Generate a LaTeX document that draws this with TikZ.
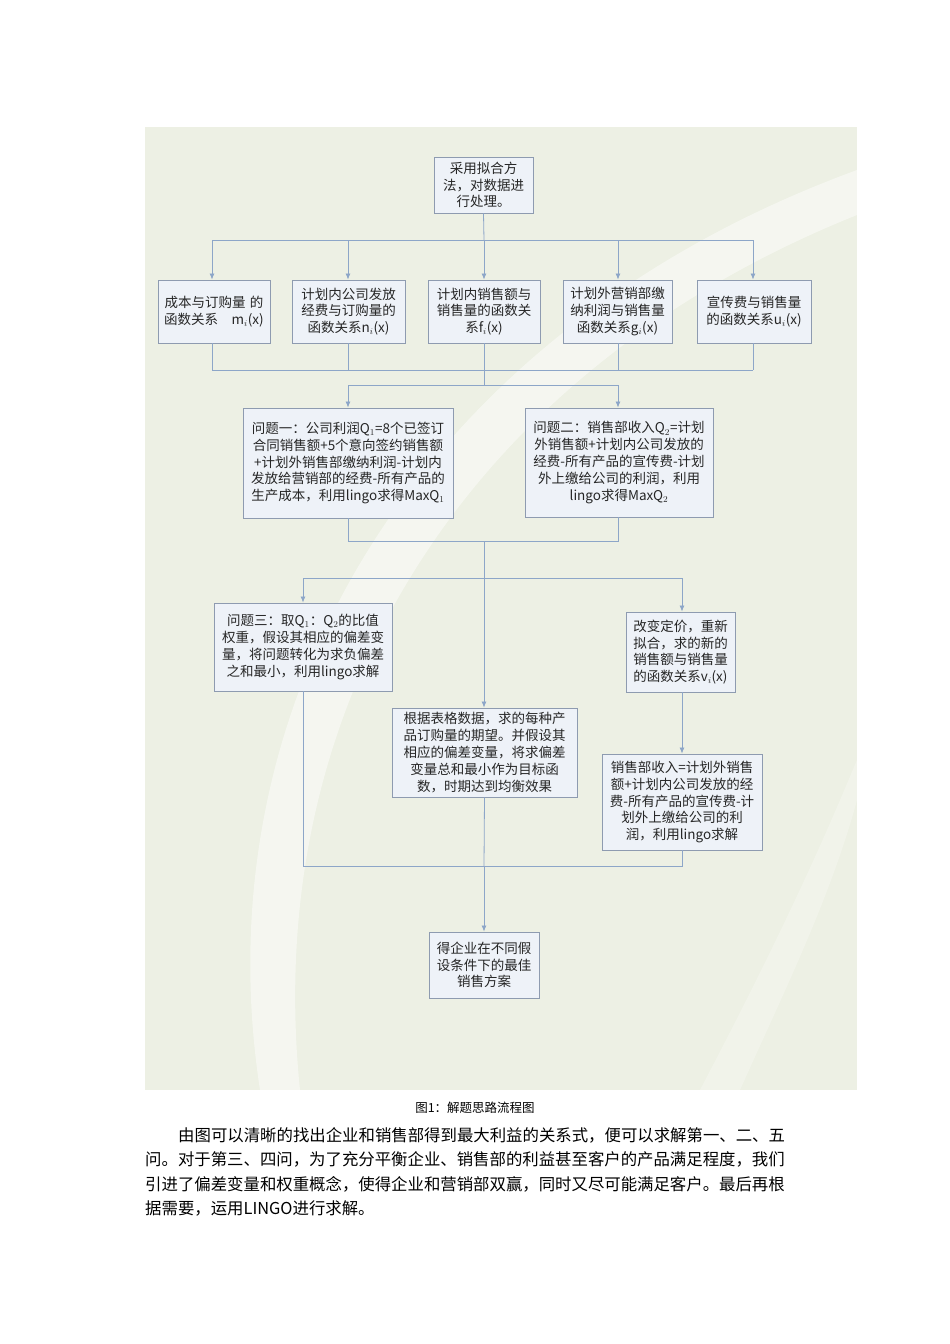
\documentclass[tikz,border=0pt]{standalone}
\usepackage{fontspec}
\setmainfont{Noto Sans CJK SC}
\usetikzlibrary{arrows.meta}
\definecolor{bg}{HTML}{EDF0E4}
\definecolor{boxf}{HTML}{EEF2F8}
\definecolor{boxd}{HTML}{8E9BB0}
\definecolor{ln}{HTML}{8DA6C8}
\tikzset{
 bx/.style={draw=boxd,fill=boxf,line width=0.9pt,inner sep=1pt,align=center,font=\fontsize{13.5}{16.8}\selectfont,text=black!85},
 cn/.style={draw=ln,line width=0.8pt},
 ar/.style={cn,-{Latex[length=6pt,width=5pt]},draw=ln,fill=ln!80!blue},
 pl/.style={anchor=west,font=\fontsize{16.4}{19}\selectfont,inner sep=0pt}
}
\newcommand{\bxat}[6]{\node[bx,minimum width=#3-#1,minimum height=#4-#2,text width=#3-#1-4] (#5) at ({(#1+#3)/2},{(#2+#4)/2}) {#6};}
\begin{document}
\begin{tikzpicture}[x=1pt,y=-1pt]
\useasboundingbox (0,0) rectangle (950,1344);
\fill[white] (0,0) rectangle (950,1344);
\fill[bg] (145,127) rectangle (857,1090);
\begin{scope}
\clip (145,127) rectangle (857,1090);
\fill[white,opacity=0.45] (260,1090) .. controls (200,700) and (420,330) .. (857,170) -- (857,215) .. controls (470,370) and (260,700) .. (300,1090) -- cycle;
\fill[white,opacity=0.25] (700,1090) .. controls (800,900) and (840,800) .. (857,760) -- (857,800) .. controls (830,900) and (780,1000) .. (740,1090) -- cycle;
\end{scope}
\bxat{434}{157}{533}{213}{t}{采用拟合方\\法，对数据进\\行处理。}
\bxat{158}{280}{270}{343}{a1}{成本与订购量 的\\函数关系\quad m$_i$(x)}
\bxat{292}{280}{405}{343}{a2}{计划内公司发放\\经费与订购量的\\函数关系n$_i$(x)}
\bxat{428}{280}{540}{343}{a3}{计划内销售额与\\销售量的函数关\\系f$_i$(x)}
\bxat{563}{280}{672}{343}{a4}{计划外营销部缴\\纳利润与销售量\\函数关系g$_i$(x)}
\bxat{697}{280}{811}{343}{a5}{宣传费与销售量\\的函数关系u$_i$(x)}
\bxat{243}{408}{453}{518}{q1}{问题一：公司利润Q$_1$=8个已签订\\合同销售额+5个意向签约销售额\\+计划外销售部缴纳利润-计划内\\发放给营销部的经费-所有产品的\\生产成本，利用lingo求得MaxQ$_1$}
\bxat{525}{408}{713}{517}{q2}{问题二：销售部收入Q$_2$=计划\\外销售额+计划内公司发放的\\经费-所有产品的宣传费-计划\\外上缴给公司的利润，利用\\lingo求得MaxQ$_2$}
\bxat{214}{603}{392}{691}{q3}{问题三：取Q$_1$：Q$_2$的比值\\权重，假设其相应的偏差变\\量，将问题转化为求负偏差\\之和最小，利用lingo求解}
\bxat{392}{708}{577}{797}{q5}{根据表格数据，求的每种产\\品订购量的期望。并假设其\\相应的偏差变量，将求偏差\\变量总和最小作为目标函\\数，时期达到均衡效果}
\bxat{626}{612}{735}{692}{q4}{改变定价，重新\\拟合，求的新的\\销售额与销售量\\的函数关系v$_i$(x)}
\bxat{602}{754}{762}{850}{q6}{销售部收入=计划外销售\\额+计划内公司发放的经\\费-所有产品的宣传费-计\\划外上缴给公司的利\\润，利用lingo求解}
\bxat{429}{932}{539}{998}{f}{得企业在不同假\\设条件下的最佳\\销售方案}
% connectors
\coordinate (b1) at (484,240);
\draw[cn] (t.south) -- (b1);
\draw[cn] (212,240) -- (753,240);
\foreach \n/\x in {a1/212,a2/348,a3/484,a4/618,a5/753}{
 \draw[ar] (\x,240) -- (\n.north -| \x,0);
 \draw[cn] (\n.south -| \x,0) -- (\x,370);}
\draw[cn] (212,370) -- (753,370);
\draw[cn] (484,370) -- (484,385);
\draw[cn] (348,385) -- (618,385);
\draw[ar] (348,385) -- (q1.north -| 348,0);
\draw[ar] (618,385) -- (q2.north -| 618,0);
\draw[cn] (q1.south -| 348,0) -- (348,541) -- (618,541) -- (q2.south -| 618,0);
\draw[cn] (484,541) -- (484,578);
\draw[cn] (303,578) -- (682,578);
\draw[ar] (303,578) -- (q3.north -| 303,0);
\draw[ar] (682,578) -- (q4.north -| 682,0);
\draw[ar] (484,578) -- (q5.north -| 484,0);
\draw[ar] (q4.south -| 682,0) -- (q6.north -| 682,0);
\draw[cn] (q3.south -| 303,0) -- (303,866) -- (682,866) -- (q6.south -| 682,0);
\draw[cn] (q5.south) -- (484,866);
\draw[ar] (484,866) -- (f.north);
% caption & text
\node[font=\fontsize{12.5}{14}\selectfont] (cap) at (475,1108) {图1：解题思路流程图};
\node[pl] (p1) at (178,1135) {由图可以清晰的找出企业和销售部得到最大利益的关系式，便可以求解第一、二、五};
\node[pl] (p2) at (145,1159) {问。对于第三、四问，为了充分平衡企业、销售部的利益甚至客户的产品满足程度，我们};
\node[pl] (p3) at (145,1184) {引进了偏差变量和权重概念，使得企业和营销部双赢，同时又尽可能满足客户。最后再根};
\node[pl] (p4) at (145,1208) {据需要，运用LINGO进行求解。};
\end{tikzpicture}
\end{document}
